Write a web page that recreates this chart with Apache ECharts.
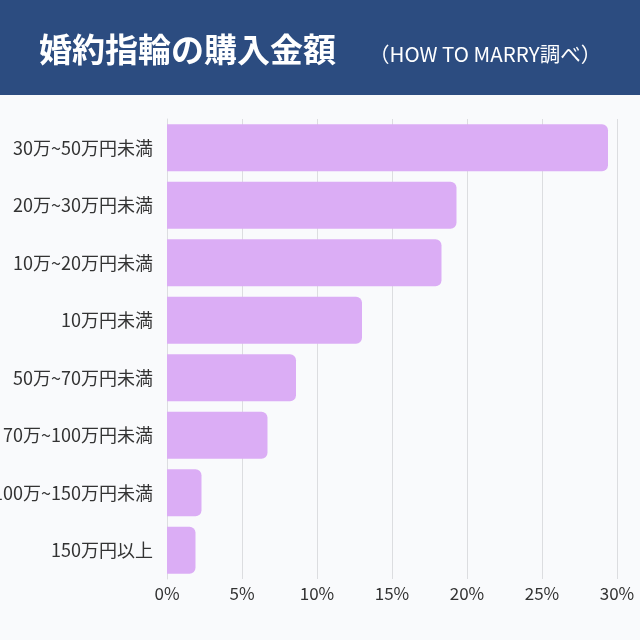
<!DOCTYPE html>
<html>
<head>
<meta charset="utf-8">
<script src="https://cdn.jsdelivr.net/npm/echarts@6/dist/echarts.min.js"></script>
<style>
  html, body { margin: 0; padding: 0; background: #f9fafc; }
  #main { width: 640px; height: 640px; }
</style>
</head>
<body>
<div id="main"></div>
<script>
var categories = ['30万~50万円未満', '20万~30万円未満', '10万~20万円未満', '10万円未満',
                  '50万~70万円未満', '70万~100万円未満', '100万~150万円未満', '150万円以上'];
var values = [29.4, 19.3, 18.3, 13.0, 8.6, 6.7, 2.3, 1.9];
var tickLabels = ['0%', '5%', '10%', '15%', '20%', '25%', '30%'];

var myChart = echarts.init(document.getElementById('main'));
var option = {
    backgroundColor: '#f9fafc',
    graphic: [
        {
            type: 'rect',
            left: 0, top: 0,
            shape: { width: 640, height: 95 },
            style: { fill: '#2c4c80' },
            silent: true
        }
    ],
    title: [
        {
            text: '婚約指輪の購入金額',
            left: 34, top: 28,
            textStyle: {
                color: '#ffffff',
                fontSize: 33,
                fontWeight: 'bold',
                fontFamily: 'Noto Sans CJK JP'
            }
        },
        {
            text: '（HOW TO MARRY調べ）',
            left: 364, top: 39,
            textStyle: {
                color: '#ffffff',
                fontSize: 20.5,
                fontWeight: 'normal',
                fontFamily: 'Noto Sans CJK JP'
            }
        }
    ],
    grid: {
        left: 167,
        right: 23,
        top: 119,
        bottom: 61,
        containLabel: false,
        outerBoundsMode: 'none'
    },
    xAxis: {
        type: 'value',
        min: 0,
        max: 30,
        interval: 5,
        axisLine: { show: false },
        axisTick: { show: false },
        splitLine: { lineStyle: { color: '#dcdde0', width: 1 } },
        axisLabel: {
            margin: 6,
            fontSize: 17,
            color: '#333333',
            fontFamily: 'Noto Sans CJK JP',
            formatter: function (v) { return tickLabels[Math.round(v / 5)]; }
        }
    },
    yAxis: {
        type: 'category',
        data: categories,
        inverse: true,
        axisLine: { show: true, lineStyle: { color: '#dcdde0' } },
        axisTick: { show: false },
        axisLabel: {
            margin: 14,
            fontSize: 18,
            color: '#333333',
            fontFamily: 'Noto Sans CJK JP'
        }
    },
    series: [
        {
            type: 'bar',
            data: values,
            barCategoryGap: '18%',
            itemStyle: {
                color: '#dbadf5',
                borderRadius: [0, 6, 6, 0]
            }
        }
    ]
};
myChart.setOption(option);
</script>
</body>
</html>
